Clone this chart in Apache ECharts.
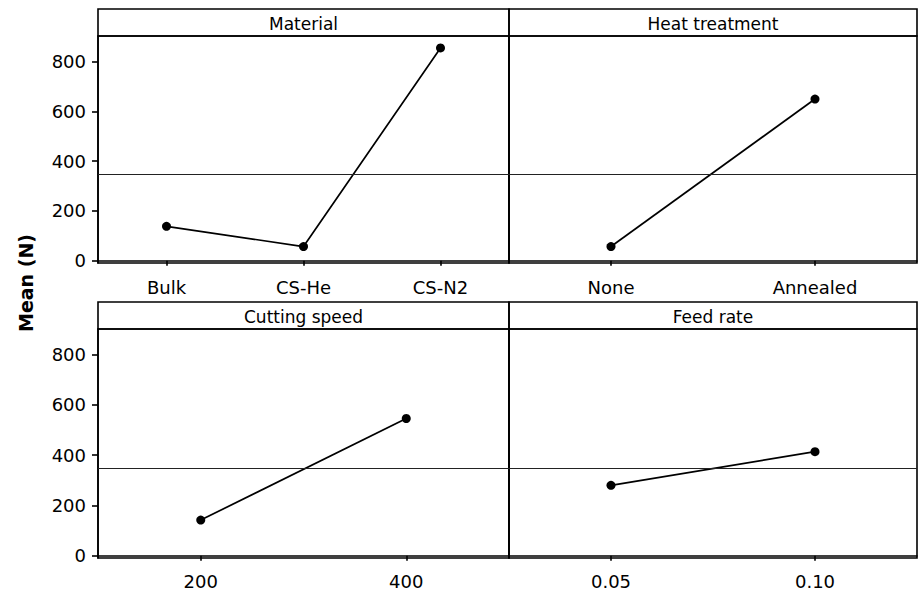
<!DOCTYPE html>
<html>
<head>
<meta charset="utf-8">
<script src="https://cdn.jsdelivr.net/npm/echarts@6/dist/echarts.min.js"></script>
<style>
html,body{margin:0;padding:0;background:#fff;}
#chart{width:919px;height:596px;}
</style>
</head>
<body>
<div id="chart"></div>
<script>
// ---- data ----
const panelTitles = ['Material', 'Heat treatment', 'Cutting speed', 'Feed rate'];
const materialCats = ['Bulk', 'CS-He', 'CS-N2'];
const materialMeans = [138, 57, 854];
const heatCats = ['None', 'Annealed'];
const heatMeans = [57, 649];
const speedCats = ['200', '400'];
const speedMeans = [142, 546];
const feedCats = ['0.05', '0.10'];
const feedMeans = [280, 414];
const overallMean = 349;
const yTicks = [0, 200, 400, 600, 800];
const yTitle = 'Mean (N)';

// ---- layout ----
const FONT = 'DejaVu Sans';
const panels = [
  {cats: materialCats, vals: materialMeans, left: 98, top: 36, width: 411, height: 227, showY: true, labelMargin: 15},
  {cats: heatCats, vals: heatMeans, left: 509, top: 36, width: 408, height: 227, showY: false, labelMargin: 15},
  {cats: speedCats, vals: speedMeans, left: 98, top: 329, width: 411, height: 229, showY: true, labelMargin: 14},
  {cats: feedCats, vals: feedMeans, left: 509, top: 329, width: 408, height: 229, showY: false, labelMargin: 14}
];
const headerH = 27;

const grid = [], xAxis = [], yAxis = [], series = [], graphic = [];
panels.forEach((p, i) => {
  grid.push({left: p.left, top: p.top, width: p.width, height: p.height,
    show: true, borderColor: '#000', borderWidth: 1.6, backgroundColor: 'transparent'});
  xAxis.push({
    type: 'category', gridIndex: i, data: p.cats, boundaryGap: true,
    axisLine: {show: true, lineStyle: {color: '#000', width: 1.6}},
    axisTick: {show: true, alignWithLabel: true, length: 5, lineStyle: {color: '#000', width: 1.6}},
    axisLabel: {fontFamily: FONT, fontSize: 18, color: '#000', margin: p.labelMargin},
    splitLine: {show: false}
  });
  yAxis.push({
    type: 'value', gridIndex: i, min: -9, max: 902,
    axisLine: {show: true, lineStyle: {color: '#000', width: 1.6}},
    axisTick: {show: p.showY, length: 6, customValues: yTicks, lineStyle: {color: '#000', width: 1.6}},
    axisLabel: {show: p.showY, customValues: yTicks, fontFamily: FONT, fontSize: 18, color: '#000', margin: 12},
    splitLine: {show: false}
  });
  series.push({
    type: 'line', xAxisIndex: i, yAxisIndex: i, data: p.vals,
    symbol: 'circle', symbolSize: 9, showSymbol: true,
    itemStyle: {color: '#000'}, lineStyle: {color: '#000', width: 1.7},
    markLine: {silent: true, symbol: 'none', label: {show: false},
      lineStyle: {color: '#222', width: 1.1, type: 'solid'},
      data: [{yAxis: overallMean}]}
  });
  graphic.push({type: 'rect', shape: {x: p.left, y: p.top - headerH, width: p.width, height: headerH},
    style: {fill: 'none', stroke: '#000', lineWidth: 1.6}, silent: true});
  graphic.push({type: 'text', x: p.left + p.width / 2, y: p.top - headerH / 2 + 1,
    style: {text: panelTitles[i], font: '17px "' + FONT + '"', fill: '#000', textAlign: 'center', textVerticalAlign: 'middle'}, silent: true});
});
graphic.push({type: 'text', x: 26, y: 283, rotation: Math.PI / 2,
  style: {text: yTitle, font: 'bold 19px "' + FONT + '"', fill: '#000', textAlign: 'center', textVerticalAlign: 'middle'}, silent: true});

const chart = echarts.init(document.getElementById('chart'), null, {renderer: 'svg'});
chart.setOption({
  animation: false,
  backgroundColor: '#fff',
  grid, xAxis, yAxis, series, graphic
});
</script>
</body>
</html>
